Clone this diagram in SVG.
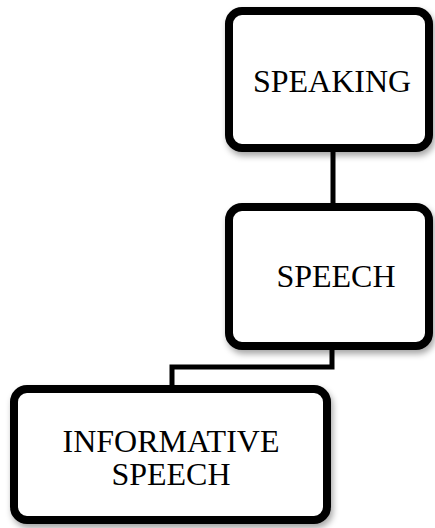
<svg xmlns="http://www.w3.org/2000/svg" width="435" height="528" viewBox="0 0 435 528">
<defs>
<filter id="sh" x="-10%" y="-10%" width="125%" height="130%">
<feDropShadow dx="2" dy="4" stdDeviation="3" flood-color="#000" flood-opacity="0.35"/>
</filter>
</defs>
<style>
.box{fill:#fff;stroke:#000;stroke-width:8;filter:url(#sh)}
.lbl{font-family:"Liberation Serif","Times New Roman",serif;font-size:32px;fill:#000;text-anchor:middle}
.con{fill:none;stroke:#000;stroke-width:5}
</style>
<rect width="435" height="528" fill="#fff"/>
<g id="connectors">
<path class="con" d="M333 150 V205"/>
<path class="con" d="M332 346 V367 H172 V388"/>
</g>
<g id="speaking">
<rect class="box" x="229" y="11" width="200" height="137" rx="13"/>
<text class="lbl" x="332" y="92">SPEAKING</text>
</g>
<g id="speech">
<rect class="box" x="229" y="207" width="200" height="139" rx="13"/>
<text class="lbl" x="336" y="287">SPEECH</text>
</g>
<g id="informative">
<rect class="box" x="14" y="389" width="313" height="131" rx="13"/>
<text class="lbl" x="171" y="452">INFORMATIVE</text>
<text class="lbl" x="171" y="485">SPEECH</text>
</g>
</svg>
